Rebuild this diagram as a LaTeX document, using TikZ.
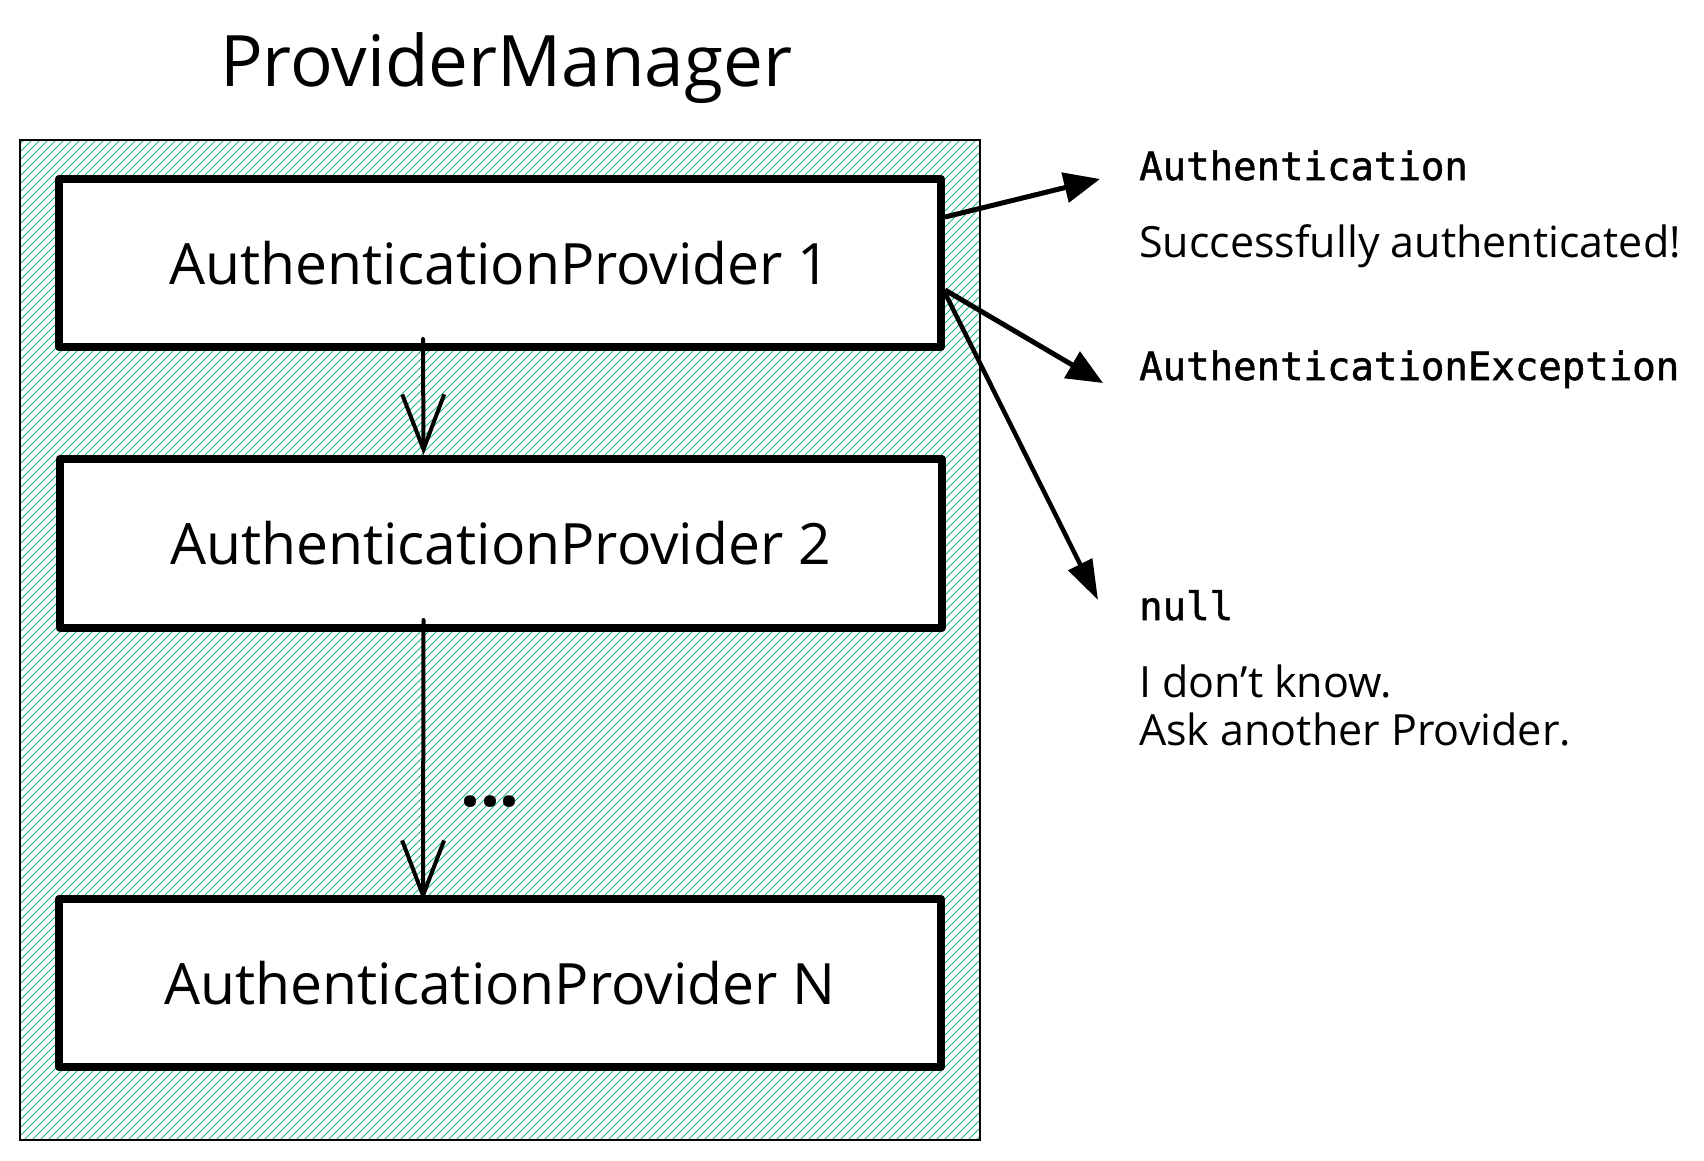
\documentclass[tikz,border=0pt]{standalone}
\usepackage{fontspec}
\setmainfont{Open Sans}
\newfontfamily\codefont{DejaVu Sans Mono}[FakeBold=1.3]
\usetikzlibrary{arrows.meta,calc}
\definecolor{hatchc}{HTML}{20B486}
\begin{document}
\begin{tikzpicture}[x=1pt,y=-1pt,
  provbox/.style={draw, line width=8pt, fill=white, minimum width=882pt, minimum height=168pt, font=\fontsize{57}{68}\selectfont, line join=round},
  hand/.style={font=\fontsize{43}{48}\selectfont, anchor=base west, inner sep=0pt},
  code/.style={font=\fontsize{39}{46}\selectfont\codefont, anchor=base west, inner sep=0pt},
  flow/.style={line width=4pt, -{Straight Barb[length=55pt,width=42pt]}, line cap=round},
  result/.style={line width=5pt, -{Triangle[length=36pt,width=30pt]}},
]
\useasboundingbox (0,0) rectangle (1704,1160);

% hatched container
\begin{scope}
  \clip (20,140) rectangle (980,1140);
  \foreach \a in {-1000,-992,...,990} \draw[hatchc, line width=0.8pt] (\a,1140) -- ++(1000,-1000);
\end{scope}
\node[draw, line width=2pt, minimum width=960pt, minimum height=1000pt, inner sep=0pt] (pm) at (500,640) {};

\node[font=\fontsize{71}{80}\selectfont, anchor=base] (title) at (506,86) {ProviderManager};

\node[provbox] (b1) at (500,263) {AuthenticationProvider 1};
\node[provbox, minimum height=169pt] (b2) at (500.5,543.5) {AuthenticationProvider 2};
\node[provbox] (bn) at (500,983) {AuthenticationProvider N};

\node[font=\fontsize{70}{80}\selectfont\bfseries, anchor=base] (dots) at (490,806) {...};

\draw[flow] ([xshift=-77pt,yshift=12pt]b1.south) -- ([xshift=-77pt]b2.north);
\draw[flow, shorten >=-6pt] ([xshift=-77pt,yshift=12pt]b2.south) -- ([xshift=-77pt]bn.north);

\coordinate (tipA) at (1100,179);
\coordinate (tipB) at (1103,383);
\coordinate (tipC) at (1098,600);
\draw[result] ([yshift=46pt]b1.east) -- (tipA);
\draw[result] ([yshift=-27pt]b1.east) -- (tipB);
\draw[line width=4.5pt, -{Triangle[length=40pt,width=26pt]}] ([yshift=-30pt]b1.east) -- (tipC);

\node[code] (auth) at (1139,180) {Authentication};
\node[hand] (succ) at (1139,257) {Successfully authenticated!};
\node[code] (exc) at (1139,380) {AuthenticationException};
\node[code] (null) at (1139,620) {null};
\node[hand] (idk) at (1139,697) {I don't know.};
\node[hand] (ask) at (1139,745) {Ask another Provider.};
\end{tikzpicture}
\end{document}
